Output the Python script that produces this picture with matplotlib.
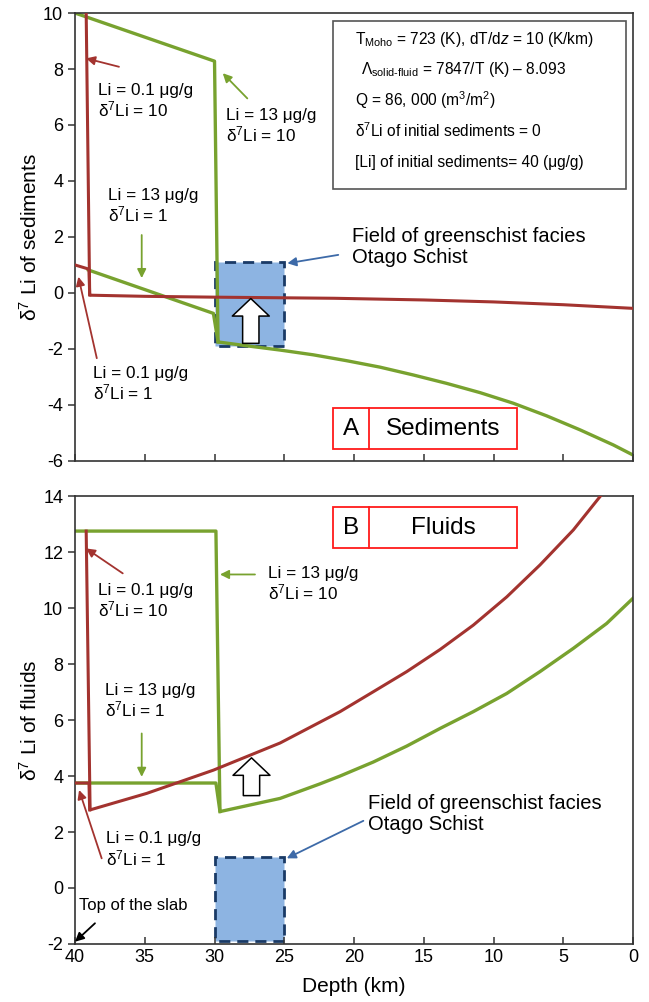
import matplotlib
matplotlib.use("Agg")
import matplotlib.pyplot as plt
from matplotlib.patches import Rectangle

plt.rcParams['font.family'] = ['Liberation Sans', 'DejaVu Sans']
plt.rcParams['mathtext.fontset'] = 'custom'
plt.rcParams['mathtext.rm'] = 'Liberation Sans'
plt.rcParams['mathtext.it'] = 'Liberation Sans:italic'
plt.rcParams['axes.unicode_minus'] = False

# --- données ---
# A : sédiments
sed_red_hi_x = [39.2, 38.95, 38.9, 35, 30, 21.4, 15, 10, 5, 0]
sed_red_hi_y = [10, -0.07, -0.08, -0.12, -0.15, -0.19, -0.25, -0.32, -0.42, -0.55]
sed_red_lo_x = [40, 39.0, 38.95]
sed_red_lo_y = [1.0, 0.85, -0.07]
sed_green_hi_x = [40, 30, 29.75, 27.5, 25.3, 22.92, 20.53, 18.14, 15.75, 13.36, 10.97,
                  8.58, 6.19, 3.8, 1.41, 0]
sed_green_hi_y = [10, 8.28, -1.75, -1.9, -2.04, -2.21, -2.42, -2.65, -2.93, -3.23, -3.56,
                  -3.94, -4.39, -4.89, -5.43, -5.79]
sed_green_lo_x = [39.04, 30.08, 29.75]
sed_green_lo_y = [0.82, -0.73, -1.75]

# B : fluides
fl_red_hi_x = [39.2, 38.92, 34.86, 30.08, 25.3, 21.0, 18.62, 16.22, 13.83, 11.45,
               9.05, 6.67, 4.28, 2.37, 0]
fl_red_hi_y = [12.75, 2.79, 3.38, 4.21, 5.18, 6.3, 7.01, 7.73, 8.52, 9.39,
               10.4, 11.54, 12.79, 13.98, 15.4]
fl_red_lo_x = [40, 39.0, 38.95]
fl_red_lo_y = [3.75, 3.75, 2.79]
fl_green_hi_x = [40, 29.9, 29.61, 25.3, 22.44, 21.0, 18.62, 16.22, 13.83, 11.45, 9.05,
                 6.67, 4.28, 1.89, 0]
fl_green_hi_y = [12.75, 12.75, 2.73, 3.2, 3.72, 4.0, 4.5, 5.07, 5.7, 6.3, 6.95,
                 7.73, 8.56, 9.45, 10.35]
fl_green_lo_x = [40, 29.9, 29.61]
fl_green_lo_y = [3.75, 3.75, 2.73]

# champ des schistes verts (Otago)
field_depth = [30, 25]
field_d7li = [-1.9, 1.1]

sed_yticks = [-6, -4, -2, 0, 2, 4, 6, 8, 10]
fl_yticks = [-2, 0, 2, 4, 6, 8, 10, 12, 14]
depth_ticks = [40, 35, 30, 25, 20, 15, 10, 5, 0]

red = '#a3332f'
green = '#78a22f'
blue_fill = '#8db4e2'
blue_edge = '#1a3a66'
blue_arrow = '#3d6aa8'

fig = plt.figure(figsize=(6.49, 10.02), dpi=100)
ax1 = fig.add_axes([0.1156, 0.54, 0.8598, 0.447])
ax2 = fig.add_axes([0.1156, 0.0579, 0.8598, 0.447])


def base(ax, yticks):
    ax.set_xlim(40, 0)
    ax.set_ylim(yticks[0], yticks[-1])
    ax.set_xticks(depth_ticks)
    ax.set_yticks(yticks)
    ax.tick_params(axis='x', direction='in', length=5, width=1.1, labelsize=13, color='#333333')
    ax.tick_params(axis='y', direction='out', length=5, width=1.1, labelsize=13, color='#333333')
    for s in ax.spines.values():
        s.set_linewidth(1.2)
        s.set_color('#333333')
    # champ Otago
    ax.add_patch(Rectangle((field_depth[1], field_d7li[0]), field_depth[0] - field_depth[1],
                           field_d7li[1] - field_d7li[0], facecolor=blue_fill,
                           edgecolor=blue_edge, lw=2, ls=(0, (4, 2.5)), zorder=1))


def note(ax, txt, xy, xytext, tpos, col, size=12.3):
    ax.annotate('', xy=xy, xytext=xytext,
                arrowprops=dict(arrowstyle='-|>', color=col, lw=1.3, mutation_scale=13,
                                shrinkA=0, shrinkB=0), zorder=5)
    if txt:
        ax.text(tpos[0], tpos[1], txt, fontsize=size, va='top', ha='left', linespacing=1.1, zorder=5)


def label_box(ax, x0, x1, xdiv, y0, y1, letter, word):
    ax.add_patch(Rectangle((x1, y0), x0 - x1, y1 - y0, fill=False, edgecolor='#ff1a1a', lw=1.3, zorder=4))
    ax.plot([xdiv, xdiv], [y0, y1], color='#ff1a1a', lw=1.3, zorder=4)
    yc = (y0 + y1) / 2
    ax.text((x0 + xdiv) / 2, yc, letter, fontsize=17.5, ha='center', va='center', zorder=4)
    ax.text((xdiv + x1) / 2, yc, word, fontsize=17.5, ha='center', va='center', zorder=4)


def white_arrow(ax, x, y0, y1):
    ax.annotate('', xy=(x, y1), xytext=(x, y0),
                arrowprops=dict(arrowstyle='simple,head_width=0.95,head_length=0.45,tail_width=0.42',
                                fc='white', ec='black', lw=1.1, mutation_scale=28,
                                shrinkA=0, shrinkB=0), zorder=6)


# ---------------- A : sédiments ----------------
base(ax1, sed_yticks)
ax1.set_xticklabels([])
ax1.plot(sed_green_hi_x, sed_green_hi_y, color=green, lw=2.4, zorder=2)
ax1.plot(sed_green_lo_x, sed_green_lo_y, color=green, lw=2.4, zorder=2)
ax1.plot(sed_red_hi_x, sed_red_hi_y, color=red, lw=2.2, zorder=3)
ax1.plot(sed_red_lo_x, sed_red_lo_y, color=red, lw=2.2, zorder=3)
ax1.set_ylabel('δ$^7$ Li of sediments', fontsize=15, labelpad=2)

note(ax1, 'Li = 0.1 μg/g\nδ$^7$Li = 10', (39.21, 8.38), (36.85, 8.08), (38.37, 7.5), red)
note(ax1, 'Li = 13 μg/g\nδ$^7$Li = 10', (29.41, 7.85), (27.65, 6.95), (29.18, 6.6), green)
note(ax1, 'Li = 13 μg/g\nδ$^7$Li = 1', (35.22, 0.53), (35.22, 2.07), (37.61, 3.75), green)
note(ax1, 'Li = 0.1 μg/g\nδ$^7$Li = 1', (39.76, 0.58), (38.44, -2.33), (38.73, -2.6), red)
note(ax1, 'Field of greenschist facies\nOtago Schist', (24.78, 1.06), (21.13, 1.36), (20.16, 2.35),
     blue_arrow, size=14.5)
white_arrow(ax1, 27.4, -1.8, -0.2)

# encadré des paramètres
ax1.add_patch(Rectangle((0.5, 3.7), 21.48 - 0.5, 9.725 - 3.7, fill=False, edgecolor='#555555', lw=1.2, zorder=4))
params = ['T$_{\\rm Moho}$ = 723 (K), dT/d$z$ = 10 (K/km)',
          'Λ$_{\\rm solid‐fluid}$ = 7847/T (K) – 8.093',
          'Q = 86, 000 (m$^3$/m$^2$)',
          'δ$^7$Li of initial sediments = 0',
          '[Li] of initial sediments= 40 (μg/g)']
params_y = [9.06, 7.99, 6.89, 5.79, 4.65]
params_x = [19.93, 19.5, 19.93, 19.93, 19.93]
for t, px, py in zip(params, params_x, params_y):
    ax1.text(px, py, t, fontsize=11.2, ha='left', va='center', zorder=4)

label_box(ax1, 21.48, 8.34, 18.90, -5.58, -4.12, 'A', 'Sediments')

# ---------------- B : fluides ----------------
base(ax2, fl_yticks)
ax2.plot(fl_green_hi_x, fl_green_hi_y, color=green, lw=2.4, zorder=2)
ax2.plot(fl_green_lo_x, fl_green_lo_y, color=green, lw=2.4, zorder=2)
ax2.plot(fl_red_hi_x, fl_red_hi_y, color=red, lw=2.2, zorder=3)
ax2.plot(fl_red_lo_x, fl_red_lo_y, color=red, lw=2.2, zorder=3)
ax2.set_ylabel('δ$^7$ Li of fluids', fontsize=15, labelpad=2)
ax2.set_xlabel('Depth (km)', fontsize=15, labelpad=8)

note(ax2, 'Li = 0.1 μg/g\nδ$^7$Li = 10', (39.21, 12.13), (36.58, 11.24), (38.37, 10.9), red)
note(ax2, 'Li = 13 μg/g\nδ$^7$Li = 10', (29.61, 11.2), (27.1, 11.2), (26.14, 11.5), green)
note(ax2, 'Li = 13 μg/g\nδ$^7$Li = 1', (35.22, 3.97), (35.22, 5.52), (37.85, 7.32), green)
note(ax2, 'Li = 0.1 μg/g\nδ$^7$Li = 1', (39.71, 3.5), (38.09, 1.06), (37.78, 2.02), red)
note(ax2, 'Field of greenschist facies\nOtago Schist', (24.82, 1.06), (19.33, 2.4), (18.97, 3.35),
     blue_arrow, size=14.5)
note(ax2, 'Top of the slab', (40, -1.92), (38.57, -1.26), (39.71, -0.35), 'black', size=12)
white_arrow(ax2, 27.35, 3.3, 4.65)

label_box(ax2, 21.48, 8.34, 18.90, 12.13, 13.6, 'B', 'Fluids')

plt.savefig('out.png', dpi=100)
